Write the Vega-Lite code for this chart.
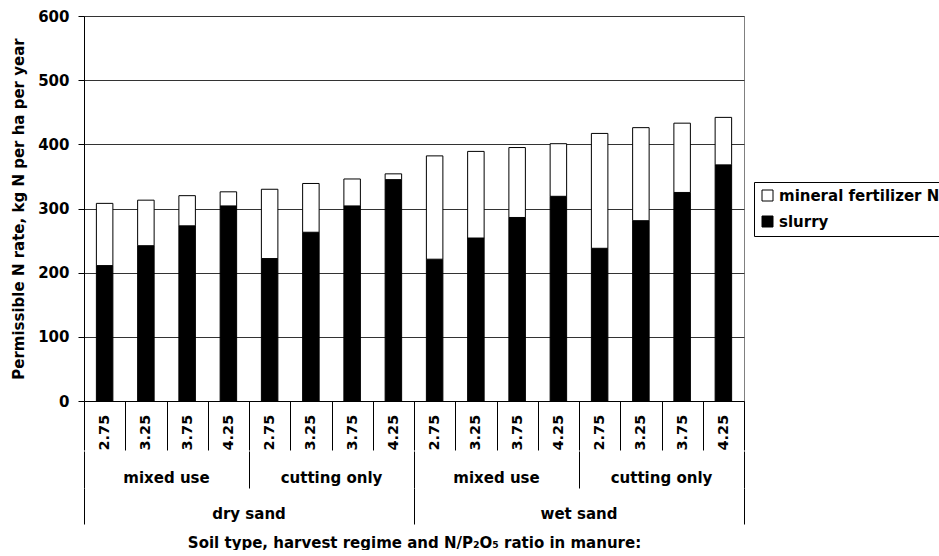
{
  "$schema": "https://vega.github.io/schema/vega-lite/v6.json",
  "padding": {"left": 11, "top": 8, "right": 0, "bottom": 0},
  "config": {
    "font": "DejaVu Sans",
    "view": {"stroke": null}
  },
  "data": {
    "values": [
      {"bar": "dry sand|mixed use|2.75", "group": "dry sand|mixed use", "soil": "dry sand", "regime": "mixed use", "ratio": "2.75", "slurry": 211, "mineral fertilizer N": 97},
      {"bar": "dry sand|mixed use|3.25", "group": "dry sand|mixed use", "soil": "dry sand", "regime": "mixed use", "ratio": "3.25", "slurry": 242, "mineral fertilizer N": 71},
      {"bar": "dry sand|mixed use|3.75", "group": "dry sand|mixed use", "soil": "dry sand", "regime": "mixed use", "ratio": "3.75", "slurry": 273, "mineral fertilizer N": 47},
      {"bar": "dry sand|mixed use|4.25", "group": "dry sand|mixed use", "soil": "dry sand", "regime": "mixed use", "ratio": "4.25", "slurry": 304, "mineral fertilizer N": 22},
      {"bar": "dry sand|cutting only|2.75", "group": "dry sand|cutting only", "soil": "dry sand", "regime": "cutting only", "ratio": "2.75", "slurry": 222, "mineral fertilizer N": 108},
      {"bar": "dry sand|cutting only|3.25", "group": "dry sand|cutting only", "soil": "dry sand", "regime": "cutting only", "ratio": "3.25", "slurry": 263, "mineral fertilizer N": 76},
      {"bar": "dry sand|cutting only|3.75", "group": "dry sand|cutting only", "soil": "dry sand", "regime": "cutting only", "ratio": "3.75", "slurry": 304, "mineral fertilizer N": 42},
      {"bar": "dry sand|cutting only|4.25", "group": "dry sand|cutting only", "soil": "dry sand", "regime": "cutting only", "ratio": "4.25", "slurry": 345, "mineral fertilizer N": 9},
      {"bar": "wet sand|mixed use|2.75", "group": "wet sand|mixed use", "soil": "wet sand", "regime": "mixed use", "ratio": "2.75", "slurry": 221, "mineral fertilizer N": 161},
      {"bar": "wet sand|mixed use|3.25", "group": "wet sand|mixed use", "soil": "wet sand", "regime": "mixed use", "ratio": "3.25", "slurry": 254, "mineral fertilizer N": 135},
      {"bar": "wet sand|mixed use|3.75", "group": "wet sand|mixed use", "soil": "wet sand", "regime": "mixed use", "ratio": "3.75", "slurry": 286, "mineral fertilizer N": 109},
      {"bar": "wet sand|mixed use|4.25", "group": "wet sand|mixed use", "soil": "wet sand", "regime": "mixed use", "ratio": "4.25", "slurry": 319, "mineral fertilizer N": 82},
      {"bar": "wet sand|cutting only|2.75", "group": "wet sand|cutting only", "soil": "wet sand", "regime": "cutting only", "ratio": "2.75", "slurry": 238, "mineral fertilizer N": 179},
      {"bar": "wet sand|cutting only|3.25", "group": "wet sand|cutting only", "soil": "wet sand", "regime": "cutting only", "ratio": "3.25", "slurry": 281, "mineral fertilizer N": 145},
      {"bar": "wet sand|cutting only|3.75", "group": "wet sand|cutting only", "soil": "wet sand", "regime": "cutting only", "ratio": "3.75", "slurry": 325, "mineral fertilizer N": 108},
      {"bar": "wet sand|cutting only|4.25", "group": "wet sand|cutting only", "soil": "wet sand", "regime": "cutting only", "ratio": "4.25", "slurry": 368, "mineral fertilizer N": 74}
    ]
  },
  "spacing": 0,
  "resolve": {"scale": {"x": "independent"}, "axis": {"x": "independent"}},
  "vconcat": [
    {
      "width": 660,
      "height": 385,
      "view": {"stroke": "#808080"},
      "transform": [{"fold": ["slurry", "mineral fertilizer N"], "as": ["component", "value"]}],
      "mark": {"type": "bar", "stroke": "black", "strokeWidth": 1, "width": {"band": 0.4}},
      "encoding": {
        "x": {
          "field": "bar", "type": "nominal", "sort": null,
          "scale": {"paddingInner": 0, "paddingOuter": 0},
          "axis": {
            "title": null,
            "labelExpr": "split(datum.label, '|')[2]",
            "labelAngle": -90, "labelAlign": "left", "labelBaseline": "middle",
            "labelPadding": 0, "labelFontSize": 14.5, "labelFontWeight": "bold", "labelColor": "black",
            "labelLimit": 200,
            "tickBand": "extent", "tickSize": 49, "tickColor": "black", "domainColor": "black", "grid": false
          }
        },
        "y": {
          "field": "value", "type": "quantitative", "stack": "zero",
          "scale": {"domain": [0, 600], "nice": false},
          "axis": {
            "values": [0, 100, 200, 300, 400, 500, 600],
            "grid": true, "gridColor": "#333333",
            "domainColor": "black", "tickColor": "black", "tickSize": 6,
            "labelPadding": 9, "labelFontSize": 15, "labelFontWeight": "bold", "labelColor": "black",
            "title": "Permissible N rate, kg N per ha per year",
            "titleFontSize": 15, "titleFontWeight": "bold", "titleColor": "black", "titlePadding": 11
          }
        },
        "color": {
          "field": "component", "type": "nominal",
          "scale": {"domain": ["mineral fertilizer N", "slurry"], "range": ["white", "black"]},
          "legend": {
            "orient": "none", "legendX": 670, "legendY": 166, "title": null,
            "strokeColor": "black", "fillColor": "white", "padding": 6,
            "labelFontSize": 15, "labelFontWeight": "bold", "labelColor": "black", "labelOffset": 4,
            "labelLimit": 300,
            "symbolType": "square", "symbolSize": 121, "symbolStrokeColor": "black", "symbolStrokeWidth": 1,
            "rowPadding": 10
          }
        },
        "order": {"field": "component", "sort": "descending"}
      }
    },
    {
      "width": 660,
      "height": 37,
      "transform": [{"aggregate": [{"op": "count", "as": "n"}], "groupby": ["group", "regime"]}],
      "mark": {"type": "text", "fontSize": 15, "fontWeight": "bold", "color": "black", "baseline": "alphabetic", "dy": 13},
      "encoding": {
        "x": {
          "field": "group", "type": "nominal", "sort": null,
          "scale": {"paddingInner": 0, "paddingOuter": 0},
          "axis": {"title": null, "grid": true, "gridColor": "black", "tickBand": "extent", "labels": false, "ticks": false, "domain": false}
        },
        "text": {"field": "regime"}
      }
    },
    {
      "width": 660,
      "height": 36,
      "transform": [{"aggregate": [{"op": "count", "as": "n"}], "groupby": ["soil"]}],
      "mark": {"type": "text", "fontSize": 15, "fontWeight": "bold", "color": "black", "baseline": "alphabetic", "dy": 13},
      "encoding": {
        "x": {
          "field": "soil", "type": "nominal", "sort": null,
          "scale": {"paddingInner": 0, "paddingOuter": 0},
          "axis": {
            "title": "Soil type, harvest regime and N/P₂O₅ ratio in manure:",
            "titleFontSize": 15, "titleFontWeight": "bold", "titleColor": "black", "titlePadding": 11,
            "grid": true, "gridColor": "black", "tickBand": "extent", "labels": false, "ticks": false, "domain": false
          }
        },
        "text": {"field": "soil"}
      }
    }
  ]
}
